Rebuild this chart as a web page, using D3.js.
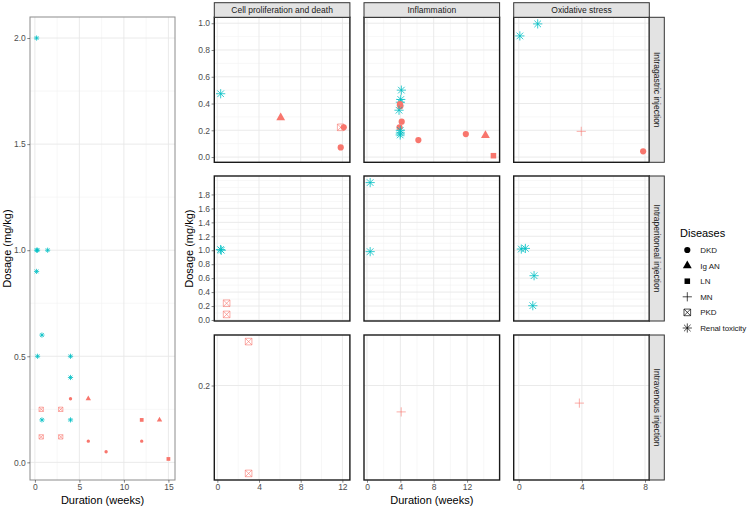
<!DOCTYPE html>
<html>
<head>
<meta charset="utf-8">
<script src="https://cdn.jsdelivr.net/npm/d3@7"></script>
<style>
    body { margin: 0; background: #ffffff; }
    svg { font-family: "Liberation Sans", Arial, sans-serif; }
    .tick-label { font-size: 8.5px; fill: #4d4d4d; }
    .axis-title { font-size: 11px; fill: #000000; }
    .strip-label { font-size: 8.5px; fill: #1a1a1a; }
    .legend-label { font-size: 8px; fill: #1a1a1a; }
</style>
</head>
<body>
<div id="chart"></div>
<script>

// =============================
// Data
// =============================
const diseases = ["DKD", "Ig AN", "LN", "MN", "PKD", "Renal toxicity"];
const mechanisms = ["Cell proliferation and death", "Inflammation", "Oxidative stress"];
const routes = ["Intragastric injection", "Intraperitoneal injection", "Intravenous injection"];

// Overview panel (left)
const overviewDisease = [
    "Renal toxicity", "Renal toxicity", "Renal toxicity", "Renal toxicity", "Renal toxicity",
    "Renal toxicity", "Renal toxicity", "Renal toxicity", "Renal toxicity", "Renal toxicity", "Renal toxicity",
    "DKD", "DKD", "DKD", "DKD",
    "Ig AN", "Ig AN",
    "LN", "LN",
    "PKD", "PKD", "PKD", "PKD"
];
const overviewDuration = [
    0.19, 0.19, 0.3, 1.43, 0.19,
    0.79, 0.3, 4, 4, 0.79, 4,
    4, 6, 8, 12,
    6, 14,
    12, 15,
    0.71, 2.9, 0.71, 2.9
];
const overviewDosage = [
    2.0, 1.0, 1.0, 1.0, 0.9,
    0.6, 0.5, 0.5, 0.4, 0.2, 0.2,
    0.3, 0.1, 0.05, 0.1,
    0.3, 0.2,
    0.2, 0.016,
    0.25, 0.25, 0.12, 0.12
];
const overviewXTicks = [0, 5, 10, 15];
const overviewYTicks = [0, 0.5, 1.0, 1.5, 2.0];

// Faceted panels (mechanism x route)
const facetMechanism = [
    0, 0, 0, 0, 0,
    1, 1, 1, 1, 1, 1, 1, 1, 1, 1, 1, 1, 1, 1, 1,
    2, 2, 2, 2,
    0, 0, 0, 0,
    1, 1,
    2, 2, 2, 2,
    0, 0,
    1,
    2
];
const facetRoute = [
    0, 0, 0, 0, 0,
    0, 0, 0, 0, 0, 0, 0, 0, 0, 0, 0, 0, 0, 0, 0,
    0, 0, 0, 0,
    1, 1, 1, 1,
    1, 1,
    1, 1, 1, 1,
    2, 2,
    2,
    2
];
const facetDisease = [
    "Renal toxicity", "Ig AN", "PKD", "DKD", "DKD",
    "Renal toxicity", "Renal toxicity", "Renal toxicity", "DKD", "DKD", "Renal toxicity", "DKD", "DKD",
    "Renal toxicity", "Renal toxicity", "Renal toxicity", "DKD", "DKD", "Ig AN", "LN",
    "Renal toxicity", "Renal toxicity", "MN", "DKD",
    "Renal toxicity", "Renal toxicity", "PKD", "PKD",
    "Renal toxicity", "Renal toxicity",
    "Renal toxicity", "Renal toxicity", "Renal toxicity", "Renal toxicity",
    "PKD", "PKD",
    "MN",
    "MN"
];
const facetDuration = [
    0.32, 6.08, 11.84, 12.13, 11.84,
    4.12, 4.05, 4.0, 3.95, 4.0, 3.84, 4.16, 3.9,
    4.0, 4.0, 3.98, 6.16, 11.85, 14.2, 15.16,
    0.07, 1.2, 3.96, 7.88,
    0.38, 0.3, 0.89, 0.89,
    0.38, 0.38,
    0.16, 0.42, 0.97, 0.89,
    3.0, 3.0,
    4.1,
    3.84
];
const facetDosage = [
    0.473, 0.294, 0.222, 0.222, 0.072,
    0.50, 0.43, 0.41, 0.395, 0.38, 0.35, 0.264, 0.222,
    0.2, 0.18, 0.165, 0.127, 0.172, 0.162, 0.01,
    0.905, 0.995, 0.192, 0.043,
    1.0, 1.01, 0.24, 0.08,
    1.97, 0.98,
    1.017, 1.026, 0.635, 0.205,
    0.25, 0.1,
    0.17,
    0.18
];
const facetXTicks = [[0, 4, 8, 12], [0, 4, 8, 12], [0, 4, 8]];
const facetYTicks = [
    [0, 0.2, 0.4, 0.6, 0.8, 1.0],
    [0, 0.2, 0.4, 0.6, 0.8, 1.0, 1.2, 1.4, 1.6, 1.8],
    [0.2]
];

// =============================
// Layout and shared helpers
// =============================
const width = 750;
const height = 508;
const red = "#F8766D";
const cyan = "#00BFC4";

const colourScale = d3.scaleOrdinal()
    .domain(diseases)
    .range([red, red, red, red, red, cyan]);

const shapeScale = d3.scaleOrdinal()
    .domain(diseases)
    .range(["circle", "triangle", "square", "plus", "boxcross", "asterisk"]);

// r = half the glyph width
const shapePath = (shape, r) => {
    const a = r * 0.72;
    switch (shape) {
        case "circle": return d3.symbol(d3.symbolCircle, Math.PI * r * r)();
        case "triangle": return d3.symbol(d3.symbolTriangle, r * r * 2.6)();
        case "square": return d3.symbol(d3.symbolSquare, r * r * 3.2)();
        case "plus": return `M${-r},0H${r}M0,${-r}V${r}`;
        case "boxcross": return `M${-a},${-a}H${a}V${a}H${-a}Z M${-a},${-a}L${a},${a}M${a},${-a}L${-a},${a}`;
        default: return `M${-r},0H${r}M0,${-r}V${r}M${-a},${-a}L${a},${a}M${a},${-a}L${-a},${a}`;
    }
};
const isFilled = s => s === "circle" || s === "triangle" || s === "square";

const expand = ext => {
    const pad = (ext[1] - ext[0]) * 0.05;
    return [ext[0] - pad, ext[1] + pad];
};

// minor breaks halfway between majors (extended one step each side)
const minorBreaks = (ticks, domain) => {
    if (ticks.length < 2) return [];
    const step = ticks[1] - ticks[0];
    const ext = [ticks[0] - step, ...ticks, ticks[ticks.length - 1] + step];
    const out = [];
    ext.forEach((t, i) => {
        if (i > 0) out.push((ext[i - 1] + t) / 2);
        if (i === 0 || i === ext.length - 1) out.push(t);
    });
    return out.filter(v => v >= domain[0] && v <= domain[1] && !ticks.some(t => Math.abs(t - v) < 1e-9));
};

const svg = d3.select("#chart")
    .append("svg")
    .attr("width", width)
    .attr("height", height);

const drawGrid = (g, xScale, yScale, xTicks, yTicks) => {
    const [x0, x1] = xScale.range();
    const [y0, y1] = yScale.range();
    const xMinor = minorBreaks(xTicks, xScale.domain());
    const yMinor = minorBreaks(yTicks, yScale.domain());
    g.selectAll(".xminor").data(xMinor).join("line")
        .attr("x1", d => xScale(d)).attr("x2", d => xScale(d))
        .attr("y1", y0).attr("y2", y1)
        .attr("stroke", "#f2f2f2").attr("stroke-width", 0.6);
    g.selectAll(".yminor").data(yMinor).join("line")
        .attr("y1", d => yScale(d)).attr("y2", d => yScale(d))
        .attr("x1", x0).attr("x2", x1)
        .attr("stroke", "#f2f2f2").attr("stroke-width", 0.6);
    g.selectAll(".xmajor").data(xTicks).join("line")
        .attr("x1", d => xScale(d)).attr("x2", d => xScale(d))
        .attr("y1", y0).attr("y2", y1)
        .attr("stroke", "#e8e8e8").attr("stroke-width", 0.9);
    g.selectAll(".ymajor").data(yTicks).join("line")
        .attr("y1", d => yScale(d)).attr("y2", d => yScale(d))
        .attr("x1", x0).attr("x2", x1)
        .attr("stroke", "#e8e8e8").attr("stroke-width", 0.9);
};

const drawPoints = (g, pts, xScale, yScale, sizes) => {
    g.selectAll(".pt").data(pts).join("path")
        .attr("transform", d => `translate(${xScale(d.duration)},${yScale(d.dosage)})`)
        .attr("d", d => shapePath(shapeScale(d.disease), sizes[shapeScale(d.disease)]))
        .attr("fill", d => isFilled(shapeScale(d.disease)) ? colourScale(d.disease) : "none")
        .attr("stroke", d => isFilled(shapeScale(d.disease)) ? "none" : colourScale(d.disease))
        .attr("stroke-width", d => shapeScale(d.disease) === "asterisk" ? 0.8 : 0.6);
};

const drawLeftAxis = (g, yScale, ticks, x, fmt) => {
    const axis = g.append("g")
        .attr("transform", `translate(${x},0)`)
        .call(d3.axisLeft(yScale).tickValues(ticks).tickSize(2.7).tickPadding(1.5).tickFormat(fmt));
    axis.select(".domain").remove();
    axis.selectAll(".tick line").attr("stroke", "#333333").attr("stroke-width", 0.6);
    axis.selectAll(".tick text").attr("class", "tick-label").attr("fill", null);
    axis.attr("font-family", null).attr("font-size", null);
};

const drawBottomAxis = (g, xScale, ticks, y, fmt) => {
    const axis = g.append("g")
        .attr("transform", `translate(0,${y})`)
        .call(d3.axisBottom(xScale).tickValues(ticks).tickSize(2.7).tickPadding(1.5).tickFormat(fmt));
    axis.select(".domain").remove();
    axis.selectAll(".tick line").attr("stroke", "#333333").attr("stroke-width", 0.6);
    axis.selectAll(".tick text").attr("class", "tick-label").attr("fill", null);
    axis.attr("font-family", null).attr("font-size", null);
};

// =============================
// Overview panel (left)
// =============================
const overview = overviewDisease.map((d, i) => ({
    disease: d, duration: overviewDuration[i], dosage: overviewDosage[i]
}));

const ovX = d3.scaleLinear()
    .domain(expand(d3.extent(overviewDuration)))
    .range([30, 175]);
const ovY = d3.scaleLinear()
    .domain(expand(d3.extent(overviewDosage)))
    .range([480, 17]);

const ovG = svg.append("g");
ovG.append("rect")
    .attr("x", 30).attr("y", 17).attr("width", 145).attr("height", 463)
    .attr("fill", "#ffffff");
drawGrid(ovG.append("g"), ovX, ovY, overviewXTicks, overviewYTicks);
drawPoints(ovG.append("g"), overview, ovX, ovY,
    { circle: 1.7, triangle: 2.2, square: 2.1, plus: 2.8, boxcross: 3, asterisk: 2.6 });
ovG.append("rect")
    .attr("x", 30).attr("y", 17).attr("width", 145).attr("height", 463)
    .attr("fill", "none").attr("stroke", "#8c8c8c").attr("stroke-width", 1);
drawLeftAxis(ovG, ovY, overviewYTicks, 30, d3.format(".1f"));
drawBottomAxis(ovG, ovX, overviewXTicks, 480, d3.format("d"));

svg.append("text")
    .attr("class", "axis-title")
    .attr("text-anchor", "middle")
    .attr("x", 102.5).attr("y", 504)
    .text("Duration (weeks)");
svg.append("text")
    .attr("class", "axis-title")
    .attr("text-anchor", "middle")
    .attr("transform", "translate(11,248.5) rotate(-90)")
    .text("Dosage (mg/kg)");

// =============================
// Faceted panels
// =============================
const colLeft = [214.3, 364, 513.7];
const rowTop = [17.3, 176, 335];
const panelW = 135.6;
const panelH = 145;

const facets = facetDisease.map((d, i) => ({
    mech: facetMechanism[i], route: facetRoute[i],
    disease: d, duration: facetDuration[i], dosage: facetDosage[i]
}));

// x free by column, y free by row
const colScales = mechanisms.map((m, c) => d3.scaleLinear()
    .domain(expand(d3.extent(facets.filter(p => p.mech === c), p => p.duration)))
    .range([colLeft[c], colLeft[c] + panelW]));
const rowScales = routes.map((r, k) => d3.scaleLinear()
    .domain(expand(d3.extent(facets.filter(p => p.route === k), p => p.dosage)))
    .range([rowTop[k] + panelH, rowTop[k]]));

const facetSizes = { circle: 3.1, triangle: 3.6, square: 3.1, plus: 4.6, boxcross: 4.6, asterisk: 4.6 };

routes.forEach((route, k) => {
    mechanisms.forEach((mech, c) => {
        const g = svg.append("g");
        const xs = colScales[c];
        const ys = rowScales[k];
        g.append("rect")
            .attr("x", colLeft[c]).attr("y", rowTop[k]).attr("width", panelW).attr("height", panelH)
            .attr("fill", "#ffffff");
        drawGrid(g.append("g"), xs, ys, facetXTicks[c], facetYTicks[k]);
        drawPoints(g.append("g"), facets.filter(p => p.mech === c && p.route === k), xs, ys, facetSizes);
        g.append("rect")
            .attr("x", colLeft[c]).attr("y", rowTop[k]).attr("width", panelW).attr("height", panelH)
            .attr("fill", "none").attr("stroke", "#1a1a1a").attr("stroke-width", 1.4);
        if (c === 0) drawLeftAxis(g, ys, facetYTicks[k], colLeft[0], d3.format(".1f"));
        if (k === routes.length - 1) drawBottomAxis(g, xs, facetXTicks[c], rowTop[k] + panelH, d3.format("d"));
    });
});

// top strips
mechanisms.forEach((mech, c) => {
    svg.append("rect")
        .attr("x", colLeft[c]).attr("y", 2.7).attr("width", panelW).attr("height", 14.6)
        .attr("fill", "#e3e3e3").attr("stroke", "#333333").attr("stroke-width", 1);
    svg.append("text")
        .attr("class", "strip-label")
        .attr("text-anchor", "middle")
        .attr("x", colLeft[c] + panelW / 2).attr("y", 13)
        .text(mech);
});

// right strips
routes.forEach((route, k) => {
    const x0 = colLeft[2] + panelW;
    svg.append("rect")
        .attr("x", x0).attr("y", rowTop[k]).attr("width", 15).attr("height", panelH)
        .attr("fill", "#e3e3e3").attr("stroke", "#333333").attr("stroke-width", 1);
    svg.append("text")
        .attr("class", "strip-label")
        .attr("text-anchor", "middle")
        .attr("transform", `translate(${x0 + 4.4},${rowTop[k] + panelH / 2}) rotate(90)`)
        .text(route);
});

svg.append("text")
    .attr("class", "axis-title")
    .attr("text-anchor", "middle")
    .attr("x", (colLeft[0] + colLeft[2] + panelW) / 2).attr("y", 504)
    .text("Duration (weeks)");
svg.append("text")
    .attr("class", "axis-title")
    .attr("text-anchor", "middle")
    .attr("transform", `translate(193,${(rowTop[0] + rowTop[2] + panelH) / 2}) rotate(-90)`)
    .text("Dosage (mg/kg)");

// =============================
// Legend
// =============================
const legend = svg.append("g").attr("transform", "translate(673,0)");
legend.append("text")
    .attr("class", "axis-title")
    .attr("x", 7).attr("y", 236.5)
    .text("Diseases");

const legendY = d3.scalePoint()
    .domain(diseases)
    .range([250, 328]);

legend.selectAll(".key").data(diseases).join("path")
    .attr("transform", d => `translate(14.3,${legendY(d)})`)
    .attr("d", d => shapePath(shapeScale(d), facetSizes[shapeScale(d)]))
    .attr("fill", d => isFilled(shapeScale(d)) ? "#000000" : "none")
    .attr("stroke", d => isFilled(shapeScale(d)) ? "none" : "#000000")
    .attr("stroke-width", 0.7);

legend.selectAll(".lab").data(diseases).join("text")
    .attr("class", "legend-label")
    .attr("x", 27.2)
    .attr("y", d => legendY(d) + 3)
    .attr("textLength", d => d === "Renal toxicity" ? 46 : null)
    .text(d => d);

</script>
</body>
</html>
